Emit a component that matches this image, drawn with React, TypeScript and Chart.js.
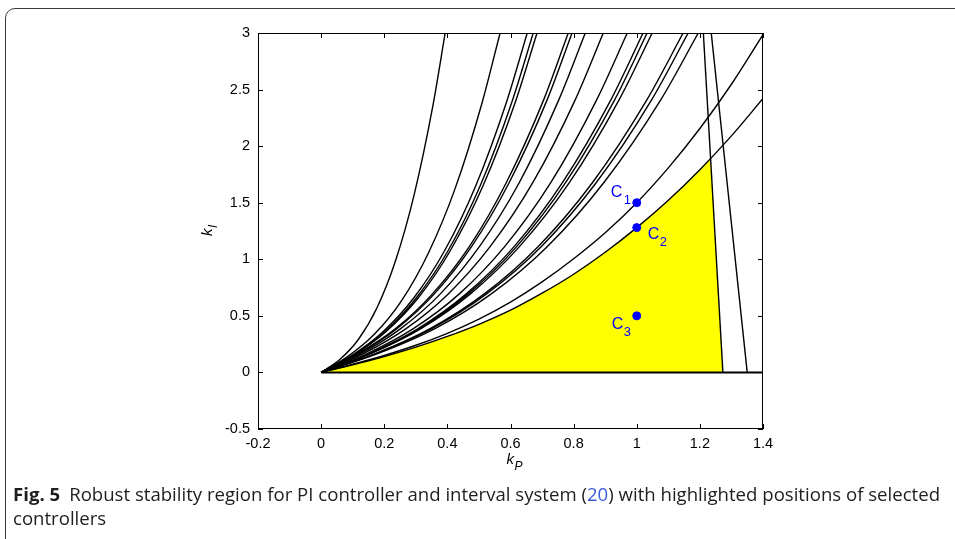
import React, { useEffect, useRef } from "react";
import { Chart, registerables } from "chart.js";
Chart.register(...registerables);

// axis ticks
const xTicks = [-0.2, 0, 0.2, 0.4, 0.6, 0.8, 1, 1.2, 1.4];
const xTickLabels = ["-0.2", "0", "0.2", "0.4", "0.6", "0.8", "1", "1.2", "1.4"];
const yTicks = [-0.5, 0, 0.5, 1, 1.5, 2, 2.5, 3];
const yTickLabels = ["-0.5", "0", "0.5", "1", "1.5", "2", "2.5", "3"];

// fan of boundary curves: kP samples of each curve ...
const c01 = [0, 0.059, 0.118, 0.177, 0.236, 0.295, 0.354, 0.393];
const c02 = [0, 0.085, 0.17, 0.255, 0.34, 0.425, 0.51, 0.567];
const c03 = [0, 0.098, 0.196, 0.294, 0.392, 0.49, 0.588, 0.653];
const c04 = [0, 0.101, 0.202, 0.302, 0.403, 0.504, 0.605, 0.672];
const c05 = [0, 0.103, 0.205, 0.308, 0.41, 0.513, 0.616, 0.684];
const c06 = [0, 0.117, 0.235, 0.352, 0.47, 0.587, 0.705, 0.783];
const c07 = [0, 0.119, 0.239, 0.358, 0.477, 0.596, 0.716, 0.795];
const c08 = [0, 0.126, 0.251, 0.377, 0.502, 0.628, 0.753, 0.837];
const c09 = [0, 0.134, 0.268, 0.402, 0.536, 0.671, 0.805, 0.894];
const c10 = [0, 0.146, 0.291, 0.437, 0.582, 0.728, 0.873, 0.97];
const c11 = [0, 0.153, 0.306, 0.459, 0.612, 0.765, 0.918, 1.02];
const c12 = [0, 0.155, 0.31, 0.465, 0.62, 0.775, 0.93, 1.033];
const c13 = [0, 0.157, 0.315, 0.472, 0.629, 0.787, 0.944, 1.049];
const c14 = [0, 0.172, 0.344, 0.516, 0.688, 0.86, 1.032, 1.147];
const c15 = [0, 0.174, 0.349, 0.523, 0.698, 0.872, 1.047, 1.163];
const c16 = [0, 0.179, 0.359, 0.538, 0.717, 0.896, 1.076, 1.195];
// ... and the kI values read at those samples
const kIsteep = [0, 0.114, 0.291, 0.571, 0.989, 1.574, 2.356, 3];
const kImid = [0, 0.142, 0.341, 0.635, 1.056, 1.629, 2.384, 3];
const kIupper = [0, 0.152, 0.36, 0.66, 1.08, 1.65, 2.395, 3];
const kIflat = [0, 0.166, 0.385, 0.692, 1.114, 1.679, 2.409, 3];
const fanCurves = [
  [c01, kIsteep], [c02, kImid], [c03, kIupper], [c04, kIupper], [c05, kIupper],
  [c06, kIflat], [c07, kIflat], [c08, kIflat], [c09, kIflat], [c10, kIflat],
  [c11, kIflat], [c12, kIflat], [c13, kIflat], [c14, kIflat], [c15, kIflat], [c16, kIflat],
];

// two lowest boundary curves (kI read at kP steps)
const lowKP = [0, 0.1, 0.2, 0.3, 0.4, 0.5, 0.6, 0.7, 0.8, 0.9, 1.0, 1.1, 1.2, 1.3, 1.4];
const curveA = [0, 0.067, 0.14, 0.223, 0.318, 0.425, 0.55, 0.7, 0.868, 1.062, 1.28, 1.522, 1.792, 2.091, 2.421];
const curveB = [0, 0.072, 0.15, 0.24, 0.346, 0.472, 0.622, 0.8, 1.005, 1.235, 1.5, 1.808, 2.156, 2.547, 2.985];

// near-vertical boundary lines [kP, kI]
const line1 = [[1.211, 3], [1.273, 0]];
const line2 = [[1.236, 3], [1.35, 0]];
const zeroLine = [[0, 0], [1.4, 0]];
const apex = [1.234, 1.894];

// selected controllers
const ctrlNames = ["1", "2", "3"];
const ctrlKP = [1, 1, 1];
const ctrlKI = [1.5, 1.28, 0.5];

const FONT = "'Liberation Sans', Arial, Helvetica, sans-serif";

export default function App() {
  const ref = useRef<HTMLCanvasElement | null>(null);
  useEffect(() => {
    const canvas = ref.current;
    if (!canvas) return;
    const black = "#000000";
    const LW = 1.4;
    const curveDatasets: any[] = fanCurves.map(([xs, ys]) => ({
      data: xs.map((x, i) => ({ x, y: ys[i] })),
      borderColor: black,
      borderWidth: LW,
      pointRadius: 0,
      cubicInterpolationMode: "monotone",
      fill: false,
      order: 1,
    }));
    [curveA, curveB].forEach((c) =>
      curveDatasets.push({
        data: c.map((y, i) => ({ x: lowKP[i], y })),
        borderColor: black,
        borderWidth: LW,
        pointRadius: 0,
        cubicInterpolationMode: "monotone",
        fill: false,
        order: 1,
      })
    );
    [line1, line2, zeroLine].forEach((l, k) =>
      curveDatasets.push({
        data: l.map((p) => ({ x: p[0], y: p[1] })),
        borderColor: black,
        borderWidth: k === 2 ? 2 : LW,
        pointRadius: 0,
        tension: 0,
        fill: false,
        order: 1,
      })
    );
    const region = lowKP
      .map((x, i) => ({ x, y: curveA[i] }))
      .filter((p) => p.x <= 1.2)
      .concat([{ x: apex[0], y: apex[1] }, { x: line1[1][0], y: line1[1][1] }]);
    const regionDataset = {
      data: region,
      borderWidth: 0,
      borderColor: "rgba(0,0,0,0)",
      backgroundColor: "#ffff00",
      pointRadius: 0,
      tension: 0,
      fill: { value: 0 },
      order: 10,
    };
    const pointDataset = {
      data: ctrlKP.map((x, i) => ({ x, y: ctrlKI[i] })),
      showLine: false,
      pointRadius: 4,
      pointBackgroundColor: "#0000ff",
      pointBorderColor: "#0000ff",
      order: -1,
    };

    const decor = {
      id: "decor",
      afterDatasetsDraw(chart: any) {
        const { ctx, chartArea, scales } = chart;
        const { left, right, top, bottom } = chartArea;
        const xs = scales.x;
        const ys = scales.y;
        ctx.save();
        ctx.strokeStyle = "#000";
        ctx.lineWidth = 1;
        ctx.strokeRect(left + 0.5, top + 0.5, right - left - 1, bottom - top - 1);
        ctx.beginPath();
        xTicks.forEach((v) => {
          const px = Math.round(xs.getPixelForValue(v)) + 0.5;
          ctx.moveTo(px, bottom);
          ctx.lineTo(px, bottom - 5);
          ctx.moveTo(px, top);
          ctx.lineTo(px, top + 5);
        });
        yTicks.forEach((v) => {
          const py = Math.round(ys.getPixelForValue(v)) + 0.5;
          ctx.moveTo(left, py);
          ctx.lineTo(left + 5, py);
          ctx.moveTo(right, py);
          ctx.lineTo(right - 5, py);
        });
        ctx.stroke();

        // controller labels
        ctx.fillStyle = "#0000ff";
        ctx.textAlign = "left";
        ctx.textBaseline = "alphabetic";
        const offs = [
          [-26, -6, -13, 1],
          [11, 11, 23, 18],
          [-25, 13, -13, 20],
        ];
        ctrlNames.forEach((n, i) => {
          const px = xs.getPixelForValue(ctrlKP[i]);
          const py = ys.getPixelForValue(ctrlKI[i]);
          const o = offs[i];
          ctx.font = `16px ${FONT}`;
          ctx.fillText("C", px + o[0], py + o[1]);
          ctx.font = `13px ${FONT}`;
          ctx.fillText(n, px + o[2], py + o[3]);
        });

        // axis titles
        ctx.fillStyle = "#000";
        const cx = (left + right) / 2;
        ctx.font = `italic 15px ${FONT}`;
        ctx.fillText("k", cx - 4, 464);
        ctx.font = `italic 12px ${FONT}`;
        ctx.fillText("P", cx + 4, 470);

        ctx.translate(212, (top + bottom) / 2);
        ctx.rotate(-Math.PI / 2);
        ctx.font = `italic 15px ${FONT}`;
        ctx.fillText("k", -5, 0);
        ctx.font = `italic 12px ${FONT}`;
        ctx.fillText("I", 3, 5);
        ctx.restore();
      },
    };

    const chart = new Chart(canvas, {
      type: "line",
      data: { datasets: [pointDataset, ...curveDatasets, regionDataset] as any },
      options: {
        animation: false,
        responsive: false,
        devicePixelRatio: 1,
        layout: { padding: { left: 213, right: 192, top: 33, bottom: 80 } },
        plugins: { legend: { display: false }, tooltip: { enabled: false } },
        scales: {
          x: {
            type: "linear",
            min: -0.2,
            max: 1.4,
            grid: { display: false },
            border: { display: false },
            afterBuildTicks: (axis: any) => {
              axis.ticks = xTicks.map((v) => ({ value: v }));
            },
            afterFit: (scale: any) => {
              scale.height = 30;
            },
            ticks: {
              color: "#000",
              padding: -2,
              maxRotation: 0,
              autoSkip: false,
              font: { family: FONT, size: 14.5 },
              callback: (_v: any, i: number) => xTickLabels[i],
            },
          },
          y: {
            type: "linear",
            min: -0.5,
            max: 3,
            grid: { display: false },
            border: { display: false },
            afterBuildTicks: (axis: any) => {
              axis.ticks = yTicks.map((v) => ({ value: v }));
            },
            afterFit: (scale: any) => {
              scale.width = 45;
            },
            ticks: {
              color: "#000",
              padding: 0,
              autoSkip: false,
              font: { family: FONT, size: 14.5 },
              callback: (_v: any, i: number) => yTickLabels[i],
            },
          },
        },
      },
      plugins: [decor],
    });
    return () => chart.destroy();
  }, []);

  return (
    <div style={{ position: "absolute", left: 0, top: 0, width: 955, height: 539, overflow: "hidden", background: "#fff" }}>
      <div
        style={{
          position: "absolute",
          left: 5,
          top: 8,
          width: 1000,
          height: 600,
          border: "1.5px solid #3a3a3a",
          borderRadius: 10,
        }}
      />
      <canvas ref={ref} width={955} height={539} style={{ position: "absolute", left: 0, top: 0 }} />
      <div
        style={{
          position: "absolute",
          left: 13,
          top: 482,
          width: 940,
          fontFamily: "'Open Sans', sans-serif",
          fontSize: 18.6,
          lineHeight: "24px",
          color: "#1e1e1e",
          whiteSpace: "nowrap",
        }}
      >
        <span style={{ fontWeight: 700 }}>Fig. 5</span>
        <span style={{ marginLeft: 9 }}>
          Robust stability region for PI controller and interval system (<span style={{ color: "#3b5bdb" }}>20</span>) with highlighted positions of selected
        </span>
        <br />
        controllers
      </div>
    </div>
  );
}
